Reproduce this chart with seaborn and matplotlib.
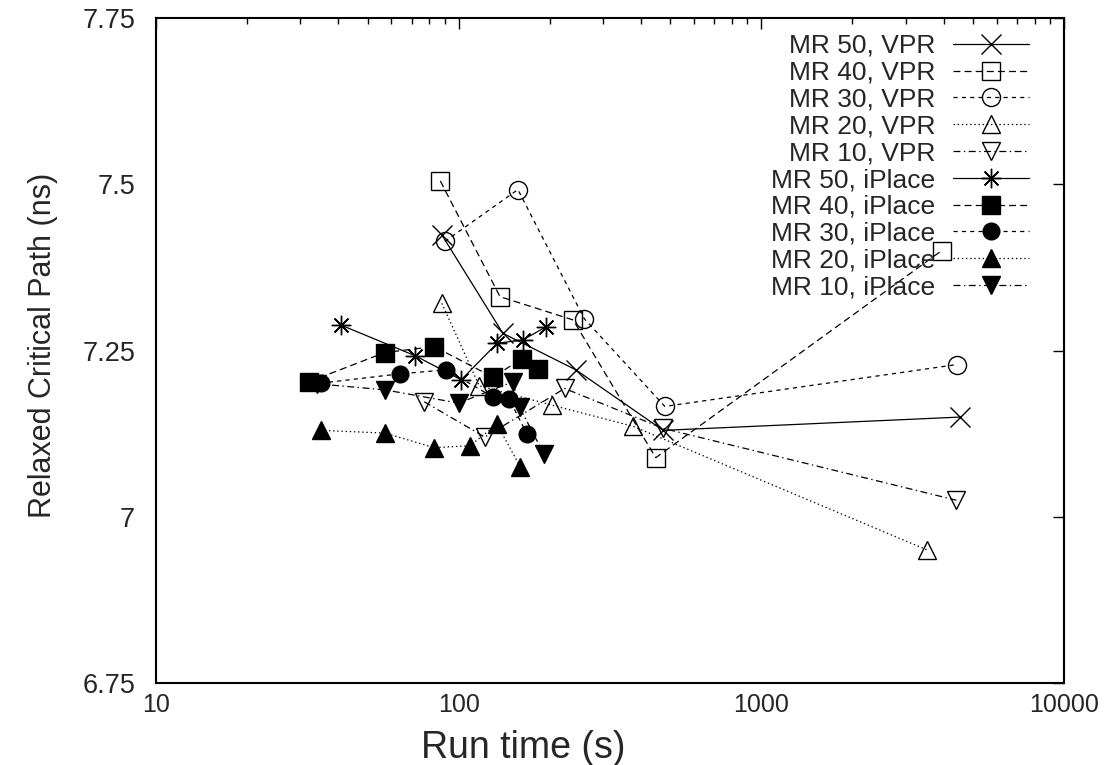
import numpy as np
import pandas as pd
import matplotlib
matplotlib.use("Agg")
import matplotlib.pyplot as plt
import seaborn as sns
from matplotlib.ticker import LogLocator, NullFormatter

# ---- data ----
series_labels = ["MR 50, VPR", "MR 40, VPR", "MR 30, VPR", "MR 20, VPR", "MR 10, VPR",
                 "MR 50, iPlace", "MR 40, iPlace", "MR 30, iPlace", "MR 20, iPlace", "MR 10, iPlace"]

vpr50_x = [88, 140, 244, 474, 4530]
vpr50_y = [7.424, 7.276, 7.221, 7.130, 7.150]
vpr40_x = [87, 137, 239, 448, 3940]
vpr40_y = [7.505, 7.331, 7.296, 7.089, 7.400]
vpr30_x = [90, 157, 260, 480, 4436]
vpr30_y = [7.414, 7.492, 7.298, 7.166, 7.229]
vpr20_x = [88, 117, 203, 378, 3540]
vpr20_y = [7.321, 7.197, 7.168, 7.136, 6.950]
vpr10_x = [77, 122, 224, 474, 4410]
vpr10_y = [7.173, 7.120, 7.193, 7.133, 7.025]

ip50_x = [41, 72, 102, 134, 163, 195]
ip50_y = [7.288, 7.242, 7.206, 7.261, 7.266, 7.286]
ip40_x = [32, 57, 83, 130, 162, 183]
ip40_y = [7.203, 7.247, 7.256, 7.210, 7.238, 7.222]
ip30_x = [35, 64, 91, 130, 147, 168]
ip30_y = [7.201, 7.215, 7.221, 7.180, 7.177, 7.125]
ip20_x = [35, 57, 83, 109, 134, 160]
ip20_y = [7.130, 7.126, 7.104, 7.107, 7.139, 7.075]
ip10_x = [34, 57, 100, 151, 159, 191]
ip10_y = [7.200, 7.191, 7.171, 7.203, 7.165, 7.095]

xticks = [10, 100, 1000, 10000]
xtick_labels = ["10", "100", "1000", "10000"]
yticks = [6.75, 7.0, 7.25, 7.5, 7.75]
ytick_labels = ["6.75", "7", "7.25", "7.5", "7.75"]

series_x = [vpr50_x, vpr40_x, vpr30_x, vpr20_x, vpr10_x, ip50_x, ip40_x, ip30_x, ip20_x, ip10_x]
series_y = [vpr50_y, vpr40_y, vpr30_y, vpr20_y, vpr10_y, ip50_y, ip40_y, ip30_y, ip20_y, ip10_y]

# ---- styles ----
sns.set_style("white")
plt.rcParams["font.family"] = ["Liberation Sans", "DejaVu Sans"]
plt.rcParams["lines.scale_dashes"] = False

line_styles = {50: "-", 40: (0, (5, 3)), 30: (0, (3, 3)), 20: (0, (1, 2)), 10: (0, (5, 2.5, 1, 2.5))}
mr_levels = [50, 40, 30, 20, 10, 50, 40, 30, 20, 10]
markers = ["x", "s", "o", "^", "v", (8, 2, 0), "s", "o", "^", "v"]
msizes = [14, 13, 13, 13, 13, 14, 13, 12, 13, 13]
filled = [False] * 5 + [True] * 5

fig, ax = plt.subplots(figsize=(11.06, 7.65), dpi=100)
fig.subplots_adjust(left=0.141, right=0.962, top=0.9765, bottom=0.107)

for lab, xs, ys, mr, mk, ms, fl in zip(series_labels, series_x, series_y, mr_levels, markers, msizes, filled):
    df = pd.DataFrame({"x": xs, "y": ys})
    sns.lineplot(data=df, x="x", y="y", ax=ax, color="black", estimator=None, sort=False,
                 linestyle=line_styles[mr], linewidth=0.9, marker=mk, markersize=ms,
                 markerfacecolor=("black" if fl else "none"), markeredgecolor="black",
                 markeredgewidth=1.0, label=lab)

ax.set_xscale("log")
ax.set_xlim(10, 10000)
ax.set_ylim(6.75, 7.75)
ax.set_xticks(xticks)
ax.set_xticklabels(xtick_labels)
ax.set_yticks(yticks)
ax.set_yticklabels(ytick_labels)
ax.xaxis.set_minor_locator(LogLocator(base=10, subs=np.arange(2, 10)))
ax.xaxis.set_minor_formatter(NullFormatter())
ax.tick_params(which="both", direction="in", top=True, right=True, color="black")
ax.tick_params(which="major", length=8, width=1.0)
ax.tick_params(which="minor", length=4, width=1.0)
ax.tick_params(axis="y", pad=15, labelsize=19.5)
ax.tick_params(axis="x", pad=7, labelsize=18)
for sp in ax.spines.values():
    sp.set_linewidth(1.5)
    sp.set_color("black")
    sp.set_visible(True)

ax.set_xlabel("Run time (s)", fontsize=27)
ax.xaxis.set_label_coords(0.405, -0.07)
ax.set_ylabel("Relaxed Critical Path (ns)", fontsize=22)
ax.yaxis.set_label_coords(-0.108, 0.508)

handles, labels = ax.get_legend_handles_labels()
ax.legend(handles, labels, loc="upper right", bbox_to_anchor=(0.962, 0.976), frameon=False,
          markerfirst=False, fontsize=19, handlelength=2.9, handletextpad=0.67,
          labelspacing=0.107, borderpad=0, borderaxespad=0, numpoints=1)

fig.savefig("out.png", dpi=100)
